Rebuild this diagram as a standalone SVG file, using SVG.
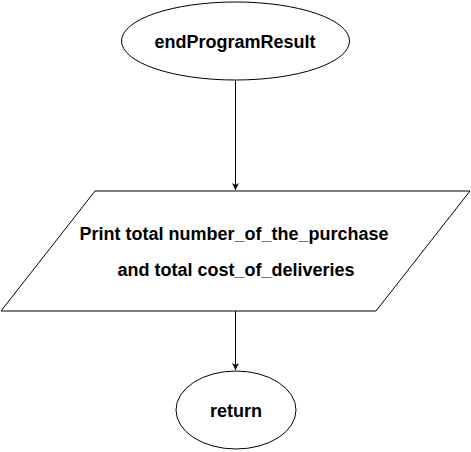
<svg xmlns="http://www.w3.org/2000/svg" width="471" height="452" viewBox="0 0 471 452">
<style>
.s{fill:#fff;stroke:#000;stroke-width:1}
.t{font-family:"Liberation Sans",Arial,sans-serif;font-weight:bold;font-size:18px;fill:#000;text-anchor:middle}
.c{stroke:#000;stroke-width:1;fill:none}
</style>
<defs>
<marker id="a" markerWidth="8" markerHeight="8" refX="7" refY="4" orient="auto" markerUnits="userSpaceOnUse">
<path d="M0,0.5 L7,4 L0,7.5 L2,4 Z" fill="#000"/>
</marker>
</defs>
<rect width="471" height="452" fill="#fff"/>
<g id="connectors">
<line class="c" x1="235.5" y1="80" x2="235.5" y2="190" marker-end="url(#a)"/>
<line class="c" x1="235.5" y1="311" x2="235.5" y2="370" marker-end="url(#a)"/>
</g>
<g id="start">
<ellipse class="s" cx="235.5" cy="41" rx="114" ry="39"/>
<text class="t" x="235" y="47.5">endProgramResult</text>
</g>
<g id="print">
<polygon class="s" points="95,191 470,191 376,311 1,311"/>
<text class="t" x="234" y="239.5">Print total number_of_the_purchase</text>
<text class="t" x="236" y="275.5">and total cost_of_deliveries</text>
</g>
<g id="return">
<ellipse class="s" cx="236" cy="410" rx="60" ry="39"/>
<text class="t" x="236" y="416.5">return</text>
</g>
</svg>
